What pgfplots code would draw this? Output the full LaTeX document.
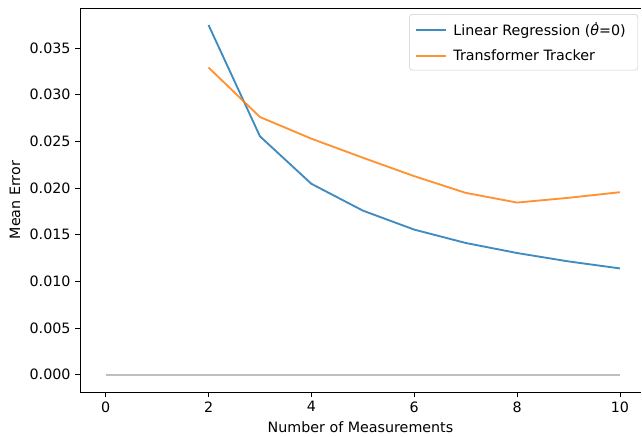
\documentclass[border=0pt]{standalone}
\usepackage{fontspec}
\setmainfont{DejaVu Sans}
\usepackage{pgfplots}
\pgfplotsset{compat=1.18}
\definecolor{mplblue}{HTML}{1F77B4}
\definecolor{mplorange}{HTML}{FF7F0E}
\begin{document}
\begin{tikzpicture}
\begin{axis}[
    scale only axis,
    width=420.75pt, height=288pt,
    xmin=-0.5, xmax=10.41,
    ymin=-0.00187, ymax=0.0393,
    axis x line*=box, axis y line*=left,
    axis line style={black, line width=0.6pt},
    xtick pos=bottom,
    xtick={0,2,4,6,8,10},
    ytick={0,0.005,0.01,0.015,0.02,0.025,0.03,0.035},
    scaled y ticks=false,
    yticklabel style={/pgf/number format/.cd, fixed, fixed zerofill, precision=3},
    /pgf/number format/assume math mode=true,
    tick align=outside,
    major tick length=3.6pt,
    tick style={black, line width=0.6pt},
    font=\fontsize{10.7}{12}\selectfont,
    xlabel={Number of Measurements},
    ylabel={Mean Error},
    ylabel style={at={(axis description cs:-0.116,0.5)}, anchor=center},
    every axis plot/.append style={line width=1.4pt},
    legend style={at={(0.9947,0.984)}, anchor=north east,
      draw=black!20, rounded corners=2pt, fill=white, fill opacity=0.8, text opacity=1,
      font=\fontsize{10.7}{12}\selectfont, row sep=4.5pt, inner xsep=4pt, inner ysep=4pt,
      nodes={inner xsep=5pt}},
    legend cell align=left,
    legend image code/.code={\draw[#1] (0pt,0pt) -- (22.5pt,0pt);},
]
\addplot[color=mplblue, opacity=0.85] coordinates {
  (2,0.03747) (3,0.02554) (4,0.02045) (5,0.01758) (6,0.01554)
  (7,0.01411) (8,0.01303) (9,0.01213) (10,0.01138)
};
\addlegendentry{Linear Regression (\textit{θ̇}=0)}
\addplot[color=mplorange, opacity=0.85] coordinates {
  (2,0.03292) (3,0.02761) (4,0.02529) (5,0.02325) (6,0.02127)
  (7,0.01948) (8,0.01844) (9,0.01895) (10,0.01955)
};
\addlegendentry{Transformer Tracker}
\addplot[color=black!25, line width=1.5pt, forget plot] coordinates {(0,0) (10,0)};
\end{axis}
\pgfresetboundingbox
\path (current axis.south west) ++(-60pt,-33pt) rectangle ++(481.5pt,327pt);
\end{tikzpicture}
\end{document}
